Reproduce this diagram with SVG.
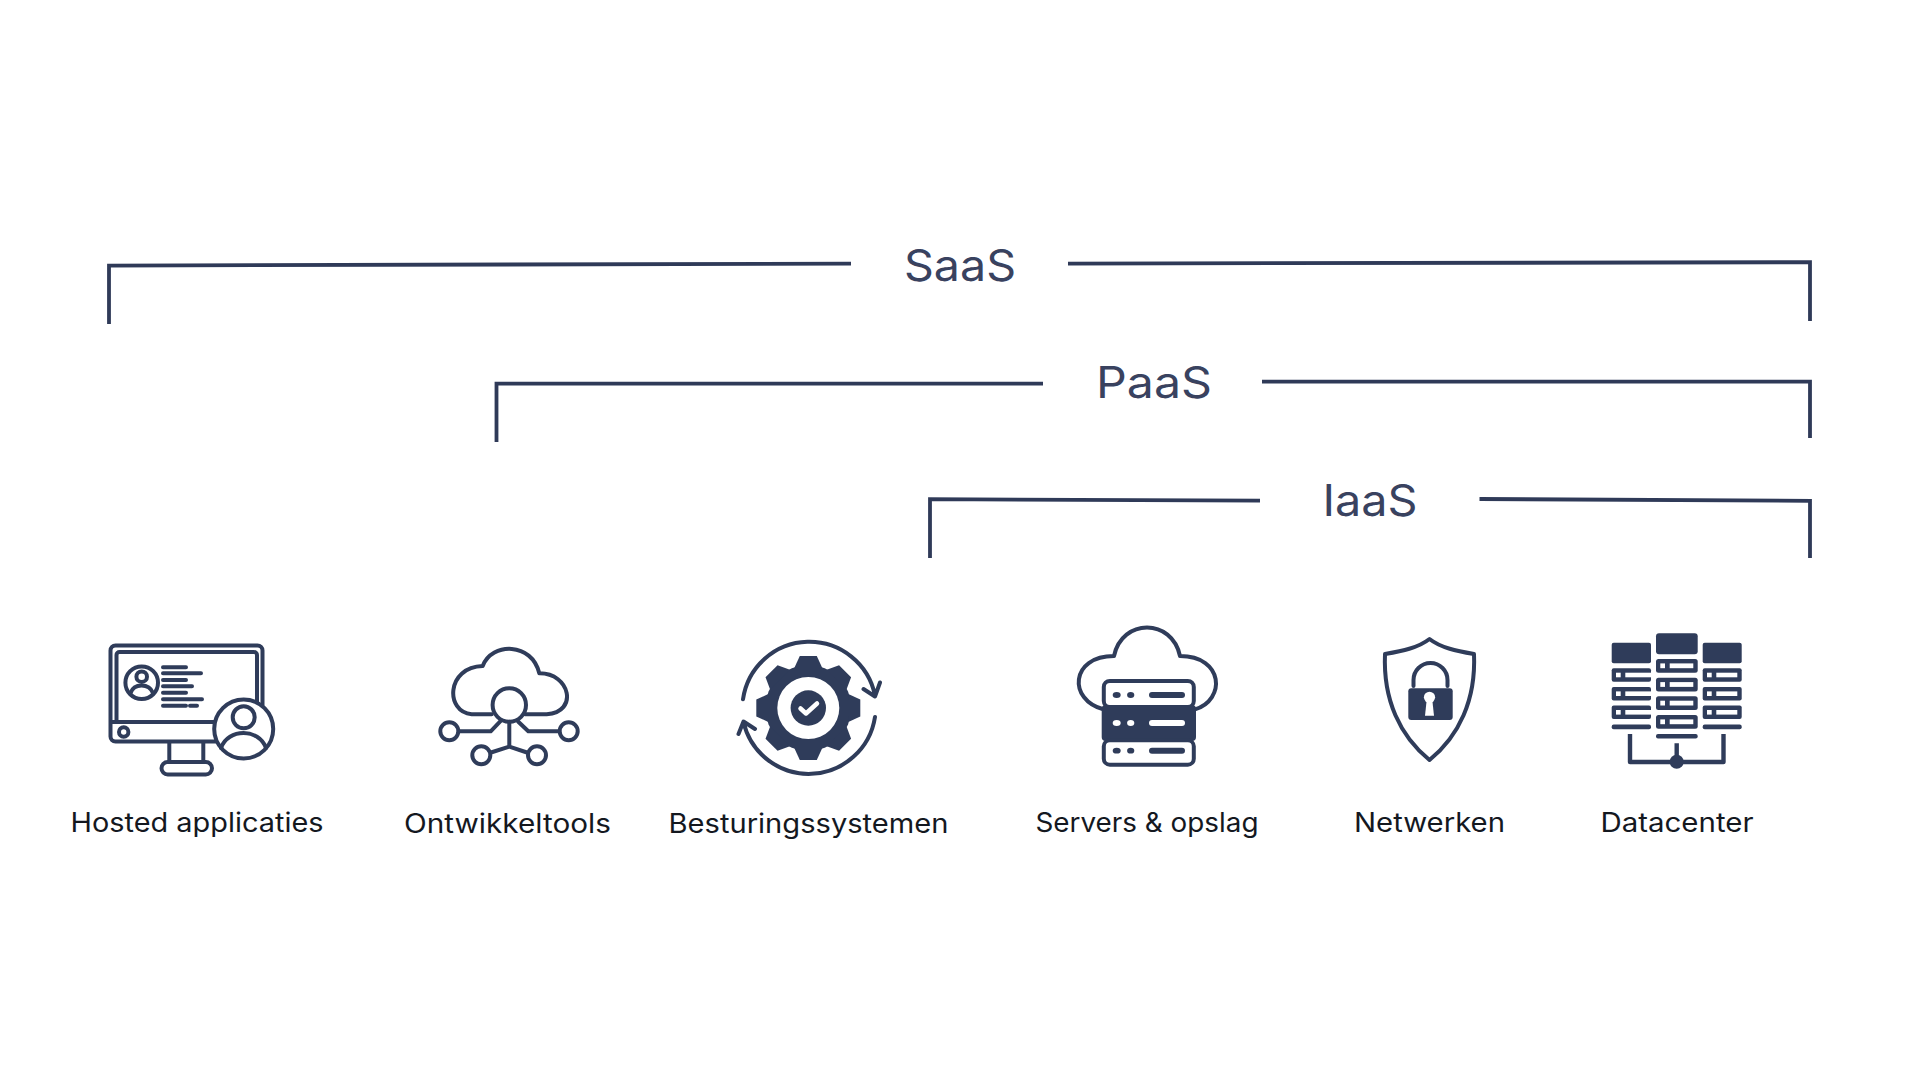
<svg xmlns="http://www.w3.org/2000/svg" xmlns:xlink="http://www.w3.org/1999/xlink" width="1920" height="1080" viewBox="0 0 1920 1080">
<style>
.title{font-family:"Inter","Liberation Sans",sans-serif;font-size:43.5px;fill:#39425f}
.label{font-family:"Inter","Liberation Sans",sans-serif;font-size:26.5px;fill:#14181f}
.br{fill:none;stroke:#2f3a58;stroke-width:3.8}
.ln{fill:none;stroke:#2f3c5a;stroke-width:4;stroke-linecap:round;stroke-linejoin:round}
.lw{fill:#fff;stroke:#2f3c5a;stroke-width:4}
.d{fill:#2f3c5a}
.w{fill:#fff}
</style>
<defs>
<polygon id="tooth" class="d" points="40,-14 52,-8.5 52,8.5 40,14"/>
<g id="unitL"><rect class="d" x="0" y="0" width="39.3" height="13.4" rx="2"/><rect class="w" x="4.3" y="4.4" width="4.7" height="4.6"/><rect class="w" x="13.6" y="4.4" width="25.7" height="4.6"/></g>
<g id="unitM"><rect class="d" x="0" y="0" width="41.7" height="13.7" rx="2.5"/><rect class="w" x="4.3" y="4.4" width="4.7" height="4.8"/><rect class="w" x="13.7" y="4.4" width="23.6" height="4.8"/></g>
<g id="unitR"><rect class="d" x="0" y="0" width="39" height="13.4" rx="2"/><rect class="w" x="4.3" y="4.4" width="4.7" height="4.6"/><rect class="w" x="13.6" y="4.4" width="21" height="4.6"/></g>
</defs>
<rect width="1920" height="1080" fill="#fff"/>
<g id="connectors">
<path class="br" d="M109 324V265.6L851 263.6"/>
<path class="br" d="M1068 263.6L1810 262.2V321"/>
<path class="br" d="M496.5 442V383.6H1043"/>
<path class="br" d="M1262 381.6H1810V438"/>
<path class="br" d="M930 558V499.2L1260 500.6"/>
<path class="br" d="M1479.5 499L1810 500.8V558"/>
</g>
<g id="saas"><text class="title" x="904" y="281" textLength="112" lengthAdjust="spacingAndGlyphs">SaaS</text></g>
<g id="paas"><text class="title" x="1096" y="397.5" textLength="116" lengthAdjust="spacingAndGlyphs">PaaS</text></g>
<g id="iaas"><text class="title" x="1322.5" y="516" textLength="95" lengthAdjust="spacingAndGlyphs">IaaS</text></g>

<g id="hosted">
<rect class="ln" x="110.5" y="645.5" width="152" height="96" rx="5"/>
<path class="ln" stroke-width="3.5" d="M116.5 722V655a3 3 0 0 1 3-3H254a3 3 0 0 1 3 3V722"/>
<path class="ln" d="M112 722H262"/>
<circle class="ln" cx="123.7" cy="732" r="4.7"/>
<path class="ln" d="M169.3 743V762M203.3 743V762"/>
<rect class="ln" x="161.5" y="762" width="50.5" height="12.5" rx="6.2" fill="#fff"/>
<circle class="lw" cx="243.7" cy="729" r="29.5"/>
<circle class="ln" cx="243.7" cy="717.3" r="11"/>
<path class="ln" d="M221 748C228 728 259 728 266 748"/>
<circle class="ln" cx="141.7" cy="682.7" r="16.3"/>
<circle class="ln" cx="141.7" cy="676.7" r="5.3"/>
<path class="ln" d="M130.5 693C134 683 149 683 153 693"/>
<path class="ln" stroke-width="3" d="M163 667.3H186M163 673.3H201M163 680H186M163 686.3H192M163 692.7H186M163 699.3H202M163 705.7H186M190 705.7H197"/>
<text class="label" x="70.5" y="832" textLength="253" lengthAdjust="spacingAndGlyphs">Hosted applicaties</text>
</g>

<g id="ontwikkeltools">
<path class="ln" d="M491.7 714.3H471.7C445 712 446 667 482.7 666C492 642 532 642 539.3 673.3C570 673 579 712 546.7 714.3H525"/>
<circle class="ln" cx="509.3" cy="705" r="16.7"/>
<circle class="ln" cx="449.3" cy="731.3" r="9"/>
<circle class="ln" cx="568.7" cy="731.3" r="9"/>
<circle class="ln" cx="481.3" cy="755.3" r="9"/>
<circle class="ln" cx="537" cy="755.3" r="9"/>
<path class="ln" d="M460 731.3H490.7L500 721.7M558.3 731.3H528.3L518.3 721.7M509.3 721.7V746.7M491 752.5L509.3 746.7L527 752.5"/>
<text class="label" x="404" y="832.7" textLength="207" lengthAdjust="spacingAndGlyphs">Ontwikkeltools</text>
</g>

<g id="besturingssystemen">
<circle class="d" cx="808.3" cy="708" r="43"/>
<use xlink:href="#tooth" href="#tooth" transform="translate(808.3 708)"/>
<use xlink:href="#tooth" href="#tooth" transform="translate(808.3 708) rotate(45)"/>
<use xlink:href="#tooth" href="#tooth" transform="translate(808.3 708) rotate(90)"/>
<use xlink:href="#tooth" href="#tooth" transform="translate(808.3 708) rotate(135)"/>
<use xlink:href="#tooth" href="#tooth" transform="translate(808.3 708) rotate(180)"/>
<use xlink:href="#tooth" href="#tooth" transform="translate(808.3 708) rotate(225)"/>
<use xlink:href="#tooth" href="#tooth" transform="translate(808.3 708) rotate(270)"/>
<use xlink:href="#tooth" href="#tooth" transform="translate(808.3 708) rotate(315)"/>
<circle class="w" cx="808.3" cy="708" r="31"/>
<circle class="d" cx="808.3" cy="708" r="17.7"/>
<path fill="none" stroke="#fff" stroke-width="4.5" stroke-linecap="round" stroke-linejoin="round" d="M800.5 708.5L806 713.5L817 703.5"/>
<path class="ln" d="M743 699.3A67 67 0 0 1 875 695.5M863.5 689L875 696.5L880 682.5"/>
<path class="ln" d="M875 717A67 67 0 0 1 743.5 722M738.5 734L743.5 721.5L755 729"/>
<text class="label" x="668.5" y="833" textLength="280" lengthAdjust="spacingAndGlyphs">Besturingssystemen</text>
</g>

<g id="servers">
<path class="ln" stroke-width="4.6" d="M1103.3 709.3C1068 700 1070 656 1114 656C1122 618 1172 618 1180 656C1224 656 1226 700 1195 709.3"/>
<rect class="lw" x="1103.8" y="681" width="90" height="26" rx="6"/>
<rect class="d" x="1101.7" y="705" width="94.3" height="36" rx="4"/>
<rect class="lw" x="1103.8" y="740.3" width="90" height="24.4" rx="6"/>
<g class="d">
<ellipse cx="1116.7" cy="695" rx="4" ry="2.9"/><ellipse cx="1130.7" cy="695" rx="3.6" ry="2.9"/><rect x="1149" y="692" width="36" height="6" rx="3"/>
<ellipse cx="1116.7" cy="750.7" rx="4" ry="2.9"/><ellipse cx="1130.7" cy="750.7" rx="3.6" ry="2.9"/><rect x="1149" y="747.7" width="36" height="6" rx="3"/>
</g>
<g class="w">
<ellipse cx="1116.7" cy="723" rx="4" ry="2.9"/><ellipse cx="1130.7" cy="723" rx="3.6" ry="2.9"/><rect x="1149" y="720" width="36" height="6" rx="3"/>
</g>
<text class="label" x="1035.5" y="832" textLength="223" lengthAdjust="spacingAndGlyphs">Servers &amp; opslag</text>
</g>

<g id="netwerken">
<path class="ln" stroke-width="3.6" d="M1429.5 639C1418 648 1402 651 1385 654C1383 700 1400 736 1429.5 760C1459 736 1476 700 1474 654C1457 651 1441 648 1429.5 639Z"/>
<path class="ln" stroke-width="3.6" stroke-linecap="butt" d="M1413.5 686V680A17 17 0 0 1 1447.5 680V686"/>
<rect class="d" x="1408.3" y="688.3" width="44.4" height="31.7" rx="3"/>
<circle class="w" cx="1429.5" cy="697.3" r="5.6"/>
<polygon class="w" points="1426.8,699 1432.2,699 1434,715.7 1425,715.7"/>
<text class="label" x="1354" y="832" textLength="151" lengthAdjust="spacingAndGlyphs">Netwerken</text>
</g>

<g id="datacenter">
<rect class="d" x="1611.7" y="642.7" width="39.3" height="20.6" rx="2"/>
<rect class="d" x="1656" y="633.3" width="41.7" height="21" rx="3"/>
<rect class="d" x="1702.7" y="642.7" width="39" height="20.6" rx="2"/>
<use href="#unitL" xlink:href="#unitL" x="1611.7" y="668.3"/>
<use href="#unitL" xlink:href="#unitL" x="1611.7" y="687"/>
<use href="#unitL" xlink:href="#unitL" x="1611.7" y="705.6"/>
<use href="#unitM" xlink:href="#unitM" x="1656" y="659"/>
<use href="#unitM" xlink:href="#unitM" x="1656" y="677.7"/>
<use href="#unitM" xlink:href="#unitM" x="1656" y="696.3"/>
<use href="#unitM" xlink:href="#unitM" x="1656" y="715"/>
<use href="#unitR" xlink:href="#unitR" x="1702.7" y="668.3"/>
<use href="#unitR" xlink:href="#unitR" x="1702.7" y="687"/>
<use href="#unitR" xlink:href="#unitR" x="1702.7" y="705.6"/>
<rect class="d" x="1611.7" y="724.5" width="39.3" height="4.7" rx="2"/>
<rect class="d" x="1656" y="734" width="41.7" height="4.5" rx="2"/>
<rect class="d" x="1702.7" y="724.5" width="39" height="4.7" rx="2"/>
<path fill="none" stroke="#2f3c5a" stroke-width="4.4" stroke-linejoin="round" d="M1630 734V762H1723.5V734M1676.7 743.3V762"/>
<circle class="d" cx="1676.7" cy="761.7" r="7"/>
<text class="label" x="1600.5" y="832" textLength="153" lengthAdjust="spacingAndGlyphs">Datacenter</text>
</g>
</svg>
